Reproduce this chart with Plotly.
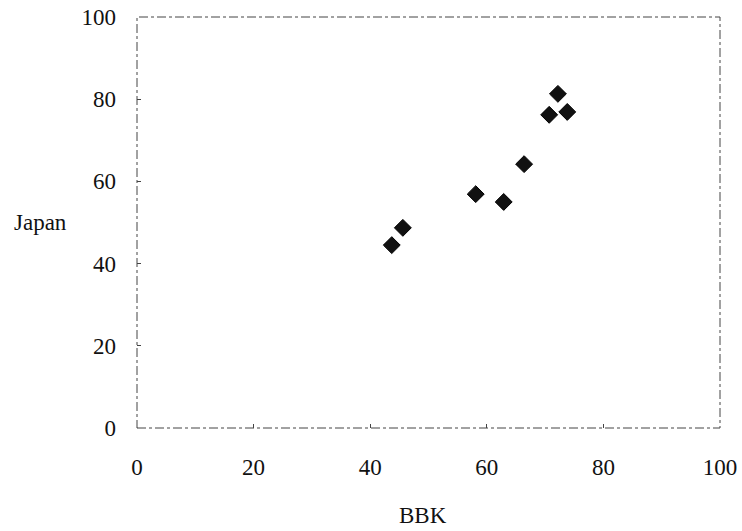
import plotly.graph_objects as go

# BBK vs Japan scores
bbk = [43.7, 45.6, 58.1, 62.9, 66.4, 70.7, 72.2, 73.8]
japan = [44.5, 48.7, 56.9, 55.0, 64.2, 76.2, 81.3, 76.9]
tick_vals = [0, 20, 40, 60, 80, 100]

font_family = "Liberation Serif, Times New Roman, serif"

fig = go.Figure(
    go.Scatter(
        x=bbk, y=japan, mode="markers",
        marker=dict(symbol="diamond", size=13, color="#111111",
                    line=dict(color="#000000", width=1)),
        showlegend=False,
    )
)

axis_common = dict(
    range=[0, 100], tickvals=tick_vals, showgrid=False, zeroline=False,
    showline=False, ticks="inside", ticklen=4, tickcolor="#444444",
    tickfont=dict(family=font_family, size=23, color="#111111"),
    fixedrange=True, automargin=False,
)
fig.update_xaxes(**axis_common, ticklabelstandoff=23)
fig.update_yaxes(**axis_common, ticklabelstandoff=20)

# dash-dot frame around the plotting area
fig.add_shape(type="rect", xref="paper", yref="paper", x0=0, y0=0, x1=1, y1=1,
              line=dict(color="#444444", width=1, dash="dashdot"))

fig.add_annotation(text="BBK", xref="paper", yref="paper", x=0.49, y=0,
                   xanchor="center", yanchor="middle",
                   yshift=-87, showarrow=False,
                   font=dict(family=font_family, size=23, color="#111111"))
fig.add_annotation(text="Japan", xref="paper", yref="paper", x=-0.166, y=0.5,
                   xanchor="center", yanchor="middle",
                   showarrow=False,
                   font=dict(family=font_family, size=23, color="#111111"))

fig.update_layout(
    width=742, height=531,
    margin=dict(l=137, r=22, t=17, b=103, autoexpand=False),
    plot_bgcolor="white", paper_bgcolor="white",
)

fig.write_html("out.html")
